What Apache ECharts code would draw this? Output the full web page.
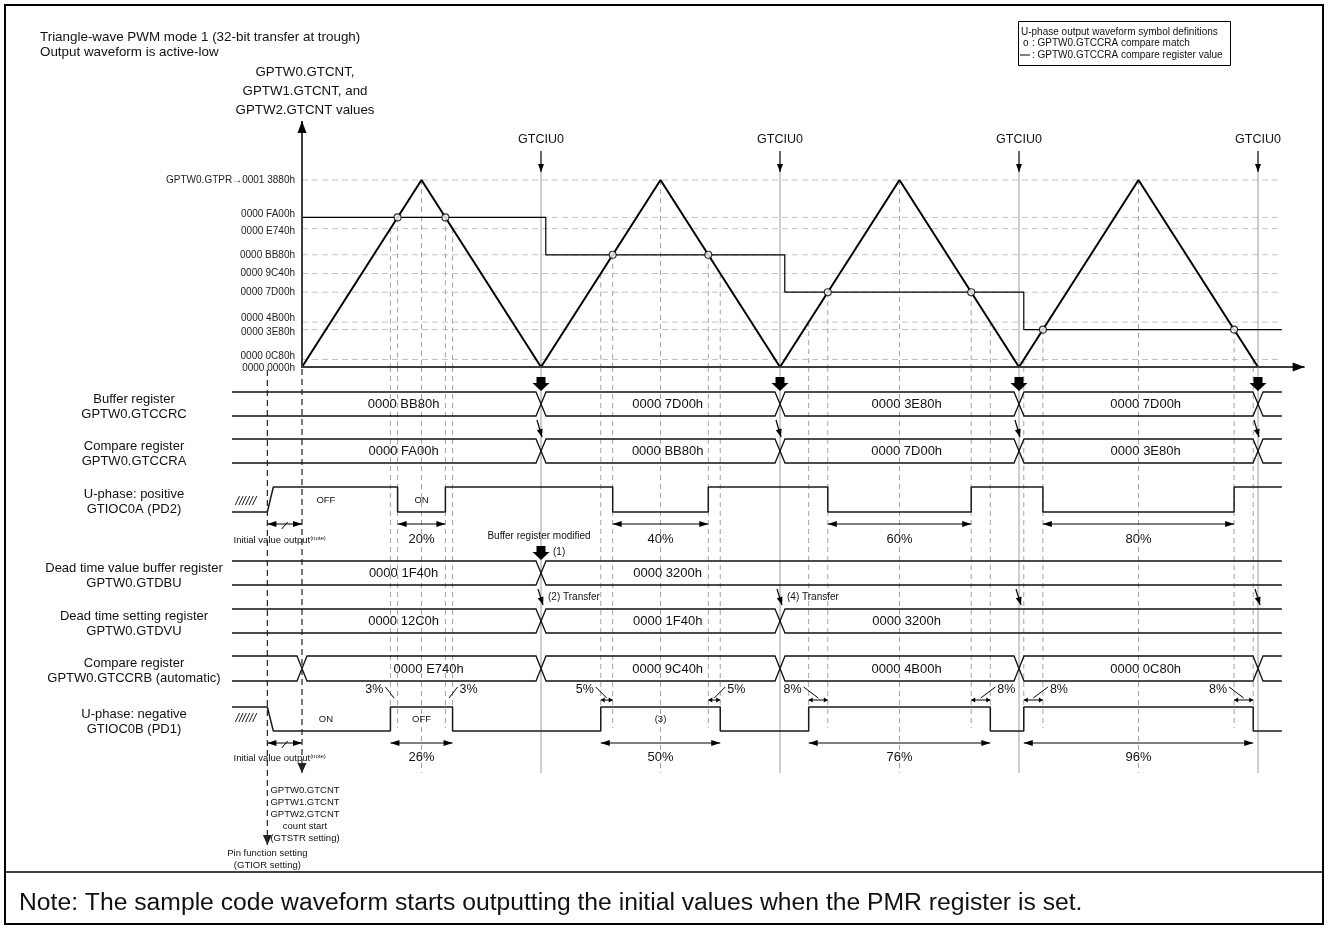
<!DOCTYPE html>
<html>
<head>
<meta charset="utf-8">
<script src="https://cdn.jsdelivr.net/npm/echarts@6.0.0/dist/echarts.min.js"></script>
<style>
html,body{margin:0;padding:0;background:#fff;}
#chart{width:1328px;height:930px;}
</style>
</head>
<body>
<div id="chart"></div>
<script>
// ======================= DATA =======================
// time unit = half a carrier period (trough -> peak)
const counterTimes  = [0, 1, 2, 3, 4, 5, 6, 7, 8];
const counterValues = [0x00000, 0x13880, 0x00000, 0x13880, 0x00000, 0x13880, 0x00000, 0x13880, 0x00000];
const gtciuTimes = [2, 4, 6, 8];            // GTCIU0 trough interrupts / buffer transfers
const peakTimes  = [1, 3, 5, 7];
const gtccraValues = [0xFA00, 0xBB80, 0x7D00, 0x3E80];   // GTCCRA per carrier period
const gtccrbValues = [0xE740, 0x9C40, 0x4B00, 0x0C80];   // GTCCRB (automatic) per period
const compareLineTimes  = [0, 2.04, 2.04, 4.04, 4.04, 6.04, 6.04, 8.2];
const compareLineValues = [0xFA00, 0xFA00, 0xBB80, 0xBB80, 0x7D00, 0x7D00, 0x3E80, 0x3E80];
const levelValues = [0x00000, 0x0C80, 0x3E80, 0x4B00, 0x7D00, 0x9C40, 0xBB80, 0xE740, 0xFA00, 0x13880];
const levelLabels = ['0000 0000h', '0000 0C80h', '0000 3E80h', '0000 4B00h', '0000 7D00h',
                     '0000 9C40h', '0000 BB80h', '0000 E740h', '0000 FA00h', 'GPTW0.GTPR\u21920001 3880h'];
const gtccrcTimes = [2, 4, 6, 8];
const gtccrcTexts = ['0000 BB80h', '0000 7D00h', '0000 3E80h', '0000 7D00h', ''];
const gtccraTimes = [2, 4, 6, 8];
const gtccraTexts = ['0000 FA00h', '0000 BB80h', '0000 7D00h', '0000 3E80h', ''];
const gtdbuTimes = [2];
const gtdbuTexts = ['0000 1F40h', '0000 3200h'];
const gtdvuTimes = [2, 4];
const gtdvuTexts = ['0000 12C0h', '0000 1F40h', '0000 3200h'];
const gtccrbTimes = [0, 2, 4, 6, 8];
const gtccrbTexts = ['', '0000 E740h', '0000 9C40h', '0000 4B00h', '0000 0C80h', ''];
const dutyALabels = ['20%', '40%', '60%', '80%'];
const dutyBLabels = ['26%', '50%', '76%', '96%'];
const deadTimeLabels = ['3%', '5%', '8%', '8%'];
const stateTextsA = ['OFF', 'ON'];
const stateTextsB = ['ON', 'OFF'];
const transferLabels = ['(2) Transfer', '(4) Transfer'];
const pinSetTime = -0.29;      // pin function setting (GTIOR)
const countStartTime = 0;      // GTSTR count start
const countStartLines = ['GPTW0.GTCNT', 'GPTW1.GTCNT', 'GPTW2.GTCNT', 'count start', '(GTSTR setting)'];
const pinSetLines = ['Pin function setting', '(GTIOR setting)'];
const rowLabels = [
  ['Buffer register', 'GPTW0.GTCCRC'],
  ['Compare register', 'GPTW0.GTCCRA'],
  ['U-phase: positive', 'GTIOC0A (PD2)'],
  ['Dead time value buffer register', 'GPTW0.GTDBU'],
  ['Dead time setting register', 'GPTW0.GTDVU'],
  ['Compare register', 'GPTW0.GTCCRB (automatic)'],
  ['U-phase: negative', 'GTIOC0B (PD1)']
];

// ======================= LAYOUT / STYLE =======================
const FONT = '"Liberation Sans", Arial, Helvetica, sans-serif';
const f = (px) => px + 'px ' + FONT;
const X0_PX = 302, UNIT_PX = 119.5;
const X_MIN = -0.6, X_MAX = 8.4;
const X_START = -0.586, X_END = 8.2, X_ARROW = 8.39;
const G_TOP = 100, G_BOTTOM = 880;
const AXIS_Y = 367, PEAK_Y = 180;
const PEAK_VAL = 0x13880;
const CNT_PX = (AXIS_Y - PEAK_Y) / PEAK_VAL;
const LANE = { ccrc: [392, 416], ccra: [439, 463], dbu: [561, 585], dvu: [609, 633], ccrb: [656, 681] };
const OUT_A = { hi: 487, lo: 512, dim: 524, txt: 539, state: 500, hatch: 502, init: 540 };
const OUT_B = { hi: 707, lo: 731, dim: 743, txt: 757, state: 719, hatch: 719, init: 758 };
const BUS_HALF_X = 5;
const LEVEL_LABEL_DY = { 0: 1, 0x0C80: -3, 0x3E80: 3, 0x4B00: -4, 0xE740: 3, 0xFA00: -3 };
const DEAD_SIDE_RISE = ['L', 'L', 'L', 'R'];
const DEAD_SIDE_FALL = ['R', 'R', 'R', 'L'];

const S = {
  level:  { color: '#c3c3c3', width: 1, dash: [6, 4] },
  guide:  { color: '#a3a3a3', width: 1, dash: [5, 4] },
  solid:  { color: '#9c9c9c', width: 1 },
  dark:   { color: '#222', width: 1.2, dash: [6, 4], hl: 10, hw: 4.5 },
  axis:   { color: '#3c3c3c', width: 2, hl: 12, hw: 4.5, headColor: '#000' },
  arrow:  { color: '#000', width: 1.2, hl: 8, hw: 3 },
  dim:    { color: '#000', width: 1.2, hl: 9, hw: 3 },
  tiny:   { color: '#000', width: 1, hl: 4, hw: 2.5 },
  thin:   { color: '#000', width: 1 }
};

// ======================= DERIVED =======================
function crossings(level, k) {
  const t0 = counterTimes[2 * k], t1 = counterTimes[2 * k + 1], t2 = counterTimes[2 * k + 2];
  const v0 = counterValues[2 * k], v1 = counterValues[2 * k + 1], v2 = counterValues[2 * k + 2];
  return [t0 + (level - v0) / (v1 - v0) * (t1 - t0), t1 + (level - v1) / (v2 - v1) * (t2 - t1)];
}
const aCross = gtccraValues.map((v, k) => crossings(v, k));
const bCross = gtccrbValues.map((v, k) => crossings(v, k));

// ======================= SERIES HELPERS =======================
function segSeries(name, yAxisIndex, items, z) {
  return {
    type: 'custom', name, xAxisIndex: 0, yAxisIndex, silent: true, clip: false, z: z || 3,
    data: items.map(it => [it.t1, it.y1, it.t2, it.y2]),
    renderItem(params, api) {
      const it = items[params.dataIndex];
      const st = it.style;
      const a = api.coord([api.value(0), api.value(1)]);
      const b = api.coord([api.value(2), api.value(3)]);
      const x1 = a[0] + (it.dx1 || 0), y1 = a[1] + (it.dy1 || 0);
      const x2 = b[0] + (it.dx2 || 0), y2 = b[1] + (it.dy2 || 0);
      const children = [{ type: 'line', shape: { x1, y1, x2, y2 },
        style: { stroke: st.color, lineWidth: st.width, lineDash: st.dash || null } }];
      const head = it.head || 'none';
      const hl = st.hl || 8, hw = st.hw || 3;
      const len = Math.hypot(x2 - x1, y2 - y1) || 1;
      const ux = (x2 - x1) / len, uy = (y2 - y1) / len, nx = -uy, ny = ux;
      const mk = (px, py, dx, dy) => ({ type: 'polygon',
        shape: { points: [[px, py], [px - dx * hl + nx * hw, py - dy * hl + ny * hw], [px - dx * hl - nx * hw, py - dy * hl - ny * hw]] },
        style: { fill: st.headColor || st.color } });
      if (head === 'end' || head === 'both') children.push(mk(x2, y2, ux, uy));
      if (head === 'start' || head === 'both') children.push(mk(x1, y1, -ux, -uy));
      return { type: 'group', children };
    }
  };
}

function textSeries(name, yAxisIndex, items, z) {
  return {
    type: 'custom', name, xAxisIndex: 0, yAxisIndex, silent: true, clip: false, z: z || 8,
    data: items.map(it => [it.t, it.y]),
    renderItem(params, api) {
      const it = items[params.dataIndex];
      const p = api.coord([api.value(0), api.value(1)]);
      const al = it.align || 'center';
      const st = { text: it.text, font: (it.style || '') + f(it.size || 12), fill: it.color || '#111',
        textAlign: al, textVerticalAlign: 'middle', align: al, verticalAlign: 'middle' };
      if (it.rich) st.rich = it.rich;
      return { type: 'text', x: p[0] + (it.dx || 0), y: p[1] + (it.dy || 0), style: st };
    }
  };
}

function busSeries(name, laneKey, times, texts) {
  const yT = LANE[laneKey][0], yB = LANE[laneKey][1];
  const bounds = [X_START].concat(times, [X_END]);
  const segs = [];
  for (let i = 0; i < bounds.length - 1; i++) {
    segs.push({ a: bounds[i], b: bounds[i + 1], xs: i > 0, xe: i < bounds.length - 2, text: texts[i] });
  }
  return {
    type: 'custom', name, xAxisIndex: 0, yAxisIndex: 1, silent: true, clip: false, z: 5,
    data: segs.map(s => [s.a, s.b]),
    renderItem(params, api) {
      const s = segs[params.dataIndex];
      const pa = api.coord([api.value(0), yT]);
      const pb = api.coord([api.value(1), yT]);
      const top = pa[1], bot = api.coord([api.value(0), yB])[1], mid = (top + bot) / 2, h = BUS_HALF_X;
      const tp = [], bp = [];
      if (s.xs) { tp.push([pa[0], mid], [pa[0] + h, top]); bp.push([pa[0], mid], [pa[0] + h, bot]); }
      else { tp.push([pa[0], top]); bp.push([pa[0], bot]); }
      if (s.xe) { tp.push([pb[0] - h, top], [pb[0], mid]); bp.push([pb[0] - h, bot], [pb[0], mid]); }
      else { tp.push([pb[0], top]); bp.push([pb[0], bot]); }
      const children = [
        { type: 'polyline', shape: { points: tp }, style: { stroke: '#111', lineWidth: 1.3, fill: null } },
        { type: 'polyline', shape: { points: bp }, style: { stroke: '#111', lineWidth: 1.3, fill: null } }
      ];
      if (s.text) {
        const tt = s.a < 0 ? 0.85 : s.a + 1.06;
        const tx = api.coord([tt, yT])[0];
        children.push({ type: 'text', x: tx, y: mid + 0.5, style: { text: s.text, font: f(13), fill: '#111',
          textAlign: 'center', textVerticalAlign: 'middle', align: 'center', verticalAlign: 'middle' } });
      }
      return { type: 'group', children };
    }
  };
}

function blockArrowSeries(name, items) {
  return {
    type: 'custom', name, xAxisIndex: 0, yAxisIndex: 1, silent: true, clip: false, z: 9,
    data: items.map(it => [it.t, it.y]),
    renderItem(params, api) {
      const p = api.coord([api.value(0), api.value(1)]);
      const x = p[0], y = p[1];
      return { type: 'polygon', shape: { points: [
        [x - 4.5, y], [x + 4.5, y], [x + 4.5, y + 6], [x + 8.5, y + 6], [x, y + 14], [x - 8.5, y + 6], [x - 4.5, y + 6]
      ] }, style: { fill: '#000' } };
    }
  };
}

// ======================= BUILD ITEMS =======================
// counter-domain guide segments (yAxis 0)
const levelSegs = levelValues.filter(v => v > 0).map(v => ({ t1: 0, y1: v, t2: X_END, y2: v, style: S.level }));
const guideTop = [];
peakTimes.forEach(t => guideTop.push({ t1: t, y1: PEAK_VAL, t2: t, y2: 0, style: S.guide }));
aCross.forEach((c, k) => c.forEach(t => guideTop.push({ t1: t, y1: gtccraValues[k], t2: t, y2: 0, style: S.guide })));
bCross.forEach((c, k) => c.forEach(t => guideTop.push({ t1: t, y1: gtccrbValues[k], t2: t, y2: 0, style: S.guide })));

// lane-domain guide segments (yAxis 1)
const guideLow = [];
peakTimes.forEach(t => guideLow.push({ t1: t, y1: AXIS_Y, t2: t, y2: 773, style: S.guide }));
aCross.forEach(c => c.forEach(t => guideLow.push({ t1: t, y1: AXIS_Y, t2: t, y2: 728, style: S.guide })));
bCross.forEach(c => c.forEach(t => guideLow.push({ t1: t, y1: AXIS_Y, t2: t, y2: 728, style: S.guide })));
gtciuTimes.forEach(t => guideLow.push({ t1: t, y1: 172, t2: t, y2: 773, style: S.solid }));

const arrowItems = [];
// axes
arrowItems.push({ t1: 0, y1: AXIS_Y, t2: X_ARROW, y2: AXIS_Y, style: S.axis, head: 'end' });
arrowItems.push({ t1: 0, y1: AXIS_Y + 1, t2: 0, y2: 121, style: S.axis, head: 'end' });
// count start / pin setting dashed markers
arrowItems.push({ t1: countStartTime, y1: AXIS_Y + 2, t2: countStartTime, y2: 773, style: S.dark, head: 'end' });
arrowItems.push({ t1: pinSetTime, y1: AXIS_Y + 3, t2: pinSetTime, y2: 845, style: S.dark, head: 'end' });
// GTCIU0 arrows
gtciuTimes.forEach(t => arrowItems.push({ t1: t, y1: 151, t2: t, y2: 172, style: S.arrow, head: 'end' }));
// transfer arrows GTCCRC -> GTCCRA and GTDBU -> GTDVU
gtciuTimes.forEach(t => {
  arrowItems.push({ t1: t, y1: 420, dx1: -4, t2: t, y2: 437, dx2: 1, style: S.arrow, head: 'end' });
  arrowItems.push({ t1: t, y1: 589, dx1: -3, t2: t, y2: 605, dx2: 2, style: S.arrow, head: 'end' });
});
// duty dimension arrows
aCross.forEach(c => arrowItems.push({ t1: c[0], y1: OUT_A.dim, t2: c[1], y2: OUT_A.dim, style: S.dim, head: 'both' }));
bCross.forEach(c => arrowItems.push({ t1: c[0], y1: OUT_B.dim, t2: c[1], y2: OUT_B.dim, style: S.dim, head: 'both' }));
// initial value output arrows
[OUT_A, OUT_B].forEach(o => {
  arrowItems.push({ t1: pinSetTime, y1: o.dim, t2: countStartTime, y2: o.dim, style: S.dim, head: 'both' });
  const m = (pinSetTime + countStartTime) / 2;
  arrowItems.push({ t1: m, y1: o.dim + 5, dx1: -3, t2: m, y2: o.dim - 2, dx2: 3, style: S.thin });
});
// dead time markers
const deadTexts = [];
aCross.forEach((c, k) => {
  const gaps = [[bCross[k][0], aCross[k][0], DEAD_SIDE_RISE[k]], [aCross[k][1], bCross[k][1], DEAD_SIDE_FALL[k]]];
  gaps.forEach(([gl, gr, side]) => {
    const m = (gl + gr) / 2;
    if (k > 0) arrowItems.push({ t1: gl, y1: 700, t2: gr, y2: 700, style: S.tiny, head: 'both' });
    if (side === 'L') {
      arrowItems.push({ t1: gl, y1: 687, dx1: -5, t2: m, y2: 698, style: S.thin });
      deadTexts.push({ t: gl, y: 690, dx: -7, text: deadTimeLabels[k], align: 'right', size: 12.5 });
    } else {
      arrowItems.push({ t1: gr, y1: 687, dx1: 5, t2: m, y2: 698, style: S.thin });
      deadTexts.push({ t: gr, y: 690, dx: 7, text: deadTimeLabels[k], align: 'left', size: 12.5 });
    }
  });
});

// waveforms
const waveA = [[X_START, OUT_A.lo], [pinSetTime, OUT_A.lo], [pinSetTime + 0.05, OUT_A.hi]];
aCross.forEach(([r, fl]) => waveA.push([r, OUT_A.hi], [r, OUT_A.lo], [fl, OUT_A.lo], [fl, OUT_A.hi]));
waveA.push([X_END, OUT_A.hi]);
const waveB = [[X_START, OUT_B.hi], [pinSetTime, OUT_B.hi], [pinSetTime + 0.05, OUT_B.lo]];
bCross.forEach(([r, fl]) => waveB.push([r, OUT_B.lo], [r, OUT_B.hi], [fl, OUT_B.hi], [fl, OUT_B.lo]));
waveB.push([X_END, OUT_B.lo]);

// texts in lane domain
const sup = { s: { font: f(6), verticalAlign: 'top' } };
const laneTexts = [];
gtciuTimes.forEach(t => laneTexts.push({ t, y: 140, text: 'GTCIU0', size: 12.5 }));
peakTimes.forEach((t, k) => {
  laneTexts.push({ t, y: OUT_A.txt, text: dutyALabels[k], size: 13 });
  laneTexts.push({ t, y: OUT_B.txt, text: dutyBLabels[k], size: 13 });
});
laneTexts.push({ t: 0.2, y: OUT_A.state, text: stateTextsA[0], size: 9.5 });
laneTexts.push({ t: peakTimes[0], y: OUT_A.state, text: stateTextsA[1], size: 9.5 });
laneTexts.push({ t: 0.2, y: OUT_B.state, text: stateTextsB[0], size: 9.5 });
laneTexts.push({ t: peakTimes[0], y: OUT_B.state, text: stateTextsB[1], size: 9.5 });
laneTexts.push({ t: peakTimes[1], y: OUT_B.state, text: '(3)', size: 9.5 });
laneTexts.push({ t: -0.47, y: OUT_A.hatch, text: '//////', size: 12.5, style: 'italic ' });
laneTexts.push({ t: -0.47, y: OUT_B.hatch, text: '//////', size: 12.5, style: 'italic ' });
[OUT_A, OUT_B].forEach(o => laneTexts.push({ t: (pinSetTime + countStartTime) / 2, y: o.init, dx: -5,
  text: 'Initial value output{s|(note)}', size: 9.5, rich: sup }));
laneTexts.push({ t: gtciuTimes[0], y: 536, dx: -2, text: 'Buffer register modified', size: 10 });
laneTexts.push({ t: gtciuTimes[0], y: 552, dx: 12, text: '(1)', size: 10, align: 'left' });
transferLabels.forEach((s, i) => laneTexts.push({ t: gtciuTimes[i], y: 597, dx: 7, text: s, size: 10, align: 'left' }));
countStartLines.forEach((s, i) => laneTexts.push({ t: countStartTime, y: 790 + i * 12, dx: 3, text: s, size: 9.5 }));
pinSetLines.forEach((s, i) => laneTexts.push({ t: pinSetTime, y: 853 + i * 12.5, text: s, size: 9.5 }));
deadTexts.forEach(d => laneTexts.push(d));

// counter tick labels (yAxis 0)
const tickTexts = levelValues.map((v, i) => ({ t: 0, y: v, dx: -7, dy: LEVEL_LABEL_DY[v] || 0,
  text: levelLabels[i], align: 'right', size: 10, color: '#222' }));

// block arrows
const blocks = gtciuTimes.map(t => ({ t, y: 377 })).concat([{ t: gtciuTimes[0], y: 546 }]);

// ======================= STATIC GRAPHIC =======================
const mkText = (s, x, y, size, align, z) => ({ type: 'text', x, y, z: z || 100,
  style: { text: s, font: f(size), fill: '#111', textAlign: align, textVerticalAlign: 'middle', align, verticalAlign: 'middle' } });
const graphic = [
  { type: 'rect', shape: { x: 5, y: 5, width: 1318, height: 919 }, style: { fill: null, stroke: '#000', lineWidth: 2 }, z: 100 },
  { type: 'line', shape: { x1: 5, y1: 872, x2: 1323, y2: 872 }, style: { stroke: '#000', lineWidth: 1.5 }, z: 100 },
  mkText('Note: The sample code waveform starts outputting the initial values when the PMR register is set.', 19, 903, 24.7, 'left'),
  mkText('Triangle-wave PWM mode 1 (32-bit transfer at trough)', 40, 37.5, 13.4, 'left'),
  mkText('Output waveform is active-low', 40, 52, 13.4, 'left')
];
['GPTW0.GTCNT,', 'GPTW1.GTCNT, and', 'GPTW2.GTCNT values'].forEach((s, i) => graphic.push(mkText(s, 305, 72 + i * 19, 13.3, 'center')));
// legend box
graphic.push({ type: 'rect', shape: { x: 1018.5, y: 21.5, width: 212, height: 44 }, style: { fill: '#fff', stroke: '#000', lineWidth: 1 }, z: 100 });
[['U-phase output waveform symbol definitions', 1021, 32], ['o', 1023, 43.5], [': GPTW0.GTCCRA compare match', 1032, 43.5],
 [': GPTW0.GTCCRA compare register value', 1032, 55]].forEach(([s, x, y]) => graphic.push(mkText(s, x, y, 10, 'left', 101)));
graphic.push({ type: 'line', shape: { x1: 1020, y1: 55, x2: 1030, y2: 55 }, style: { stroke: '#000', lineWidth: 1 }, z: 101 });
// row labels
const rowCenters = [(LANE.ccrc[0] + LANE.ccrc[1]) / 2, (LANE.ccra[0] + LANE.ccra[1]) / 2, (OUT_A.hi + OUT_A.lo) / 2,
  (LANE.dbu[0] + LANE.dbu[1]) / 2, (LANE.dvu[0] + LANE.dvu[1]) / 2, (LANE.ccrb[0] + LANE.ccrb[1]) / 2, (OUT_B.hi + OUT_B.lo) / 2];
rowLabels.forEach((pair, i) => pair.forEach((s, j) => graphic.push(mkText(s, 134, rowCenters[i] - 5 + j * 15, 13, 'center'))));

// ======================= OPTION =======================
const option = {
  animation: false,
  backgroundColor: '#ffffff',
  grid: { left: X0_PX + X_MIN * UNIT_PX, width: (X_MAX - X_MIN) * UNIT_PX, top: G_TOP, height: G_BOTTOM - G_TOP, containLabel: false },
  xAxis: { type: 'value', min: X_MIN, max: X_MAX, show: false },
  yAxis: [
    { type: 'value', min: -(G_BOTTOM - AXIS_Y) / CNT_PX, max: (AXIS_Y - G_TOP) / CNT_PX, show: false },
    { type: 'value', min: G_TOP, max: G_BOTTOM, inverse: true, show: false }
  ],
  graphic,
  series: [
    segSeries('levels', 0, levelSegs, 1),
    segSeries('guidesTop', 0, guideTop, 2),
    segSeries('guidesLow', 1, guideLow, 2),
    {
      type: 'line', name: 'GTCNT', xAxisIndex: 0, yAxisIndex: 0, z: 6, silent: true,
      data: counterTimes.map((t, i) => [t, counterValues[i]]), showSymbol: false, symbol: 'none',
      lineStyle: { color: '#000', width: 2 }
    },
    {
      type: 'line', name: 'GTCCRA value', xAxisIndex: 0, yAxisIndex: 0, z: 5, silent: true,
      data: compareLineTimes.map((t, i) => [t, compareLineValues[i]]), showSymbol: false, symbol: 'none',
      lineStyle: { color: '#000', width: 1.2 }
    },
    {
      type: 'scatter', name: 'compare match', xAxisIndex: 0, yAxisIndex: 0, z: 10, silent: true,
      data: [].concat(...aCross.map((c, k) => c.map(t => [t, gtccraValues[k]]))),
      symbol: 'circle', symbolSize: 7, itemStyle: { color: '#fff', borderColor: '#000', borderWidth: 1.1 }
    },
    segSeries('arrows', 1, arrowItems, 7),
    busSeries('GTCCRC', 'ccrc', gtccrcTimes, gtccrcTexts),
    busSeries('GTCCRA', 'ccra', gtccraTimes, gtccraTexts),
    busSeries('GTDBU', 'dbu', gtdbuTimes, gtdbuTexts),
    busSeries('GTDVU', 'dvu', gtdvuTimes, gtdvuTexts),
    busSeries('GTCCRB', 'ccrb', gtccrbTimes, gtccrbTexts),
    {
      type: 'line', name: 'GTIOC0A', xAxisIndex: 0, yAxisIndex: 1, z: 6, silent: true,
      data: waveA, showSymbol: false, symbol: 'none', lineStyle: { color: '#1a1a1a', width: 1.5 }
    },
    {
      type: 'line', name: 'GTIOC0B', xAxisIndex: 0, yAxisIndex: 1, z: 6, silent: true,
      data: waveB, showSymbol: false, symbol: 'none', lineStyle: { color: '#1a1a1a', width: 1.5 }
    },
    blockArrowSeries('transfer', blocks),
    textSeries('laneTexts', 1, laneTexts),
    textSeries('tickTexts', 0, tickTexts)
  ]
};

const chart = echarts.init(document.getElementById('chart'), null, { renderer: 'canvas', width: 1328, height: 930 });
chart.setOption(option);
</script>
</body>
</html>
